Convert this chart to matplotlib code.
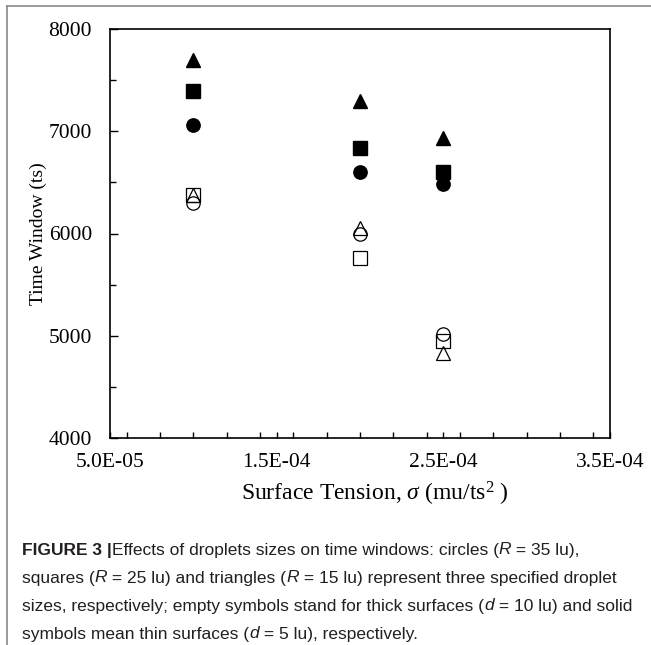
import numpy as np
import matplotlib
matplotlib.use('Agg')
import matplotlib.pyplot as plt
from matplotlib.lines import Line2D
from matplotlib.ticker import MultipleLocator, FixedLocator, FuncFormatter

plt.rcParams['font.family'] = ['Liberation Serif', 'DejaVu Serif']
plt.rcParams['mathtext.fontset'] = 'custom'
plt.rcParams['mathtext.rm'] = 'Liberation Serif'
plt.rcParams['mathtext.it'] = 'Liberation Serif:italic'

# surface tension values (mu/ts^2)
sigma = [1.0e-4, 2.0e-4, 2.5e-4]

# time windows, thin surfaces (d = 5 lu) -> solid symbols
thin_circle = [7060, 6600, 6480]    # R = 35 lu
thin_square = [7400, 6840, 6600]    # R = 25 lu
thin_triangle = [7700, 7300, 6940]  # R = 15 lu

# time windows, thick surfaces (d = 10 lu) -> empty symbols
thick_circle = [6300, 6000, 5020]
thick_square = [6380, 5760, 4950]
thick_triangle = [6380, 6050, 4830]

xticks_major = [5.0e-5, 1.5e-4, 2.5e-4, 3.5e-4]

caption = [
    [("FIGURE 3 |", 'bold'), ("Effects of droplets sizes on time windows: circles (", 'normal'),
     ("R", 'italic'), (" = 35 lu),", 'normal')],
    [("squares (", 'normal'), ("R", 'italic'), (" = 25 lu) and triangles (", 'normal'),
     ("R", 'italic'), (" = 15 lu) represent three specified droplet", 'normal')],
    [("sizes, respectively; empty symbols stand for thick surfaces (", 'normal'),
     ("d", 'italic'), (" = 10 lu) and solid", 'normal')],
    [("symbols mean thin surfaces (", 'normal'), ("d", 'italic'), (" = 5 lu), respectively.", 'normal')],
]

W, H = 651, 645
fig = plt.figure(figsize=(W / 100, H / 100), dpi=100)
ax = fig.add_axes([110 / W, 1 - 437.7 / H, 500 / W, 408.4 / H])

ax.plot(sigma, thin_triangle, '^', color='black', ms=9.6, ls='none')
ax.plot(sigma, thin_square, 's', color='black', ms=10, ls='none')
ax.plot(sigma, thin_circle, 'o', color='black', ms=9.6, ls='none')
ax.plot(sigma, thick_circle, 'o', mfc='white', mec='black', mew=0.9, ms=9.6, ls='none')
ax.plot(sigma, thick_square, 's', mfc='none', mec='black', mew=0.9, ms=10, ls='none')
ax.plot(sigma, thick_triangle, '^', mfc='none', mec='black', mew=0.9, ms=9.6, ls='none')

ax.set_xlim(5.0e-5, 3.5e-4)
ax.set_ylim(4000, 8000)
ax.xaxis.set_major_locator(FixedLocator(xticks_major))
ax.xaxis.set_minor_locator(MultipleLocator(2e-5))
ax.xaxis.set_major_formatter(FuncFormatter(lambda v, p: f"{v:.1E}"))
ax.yaxis.set_major_locator(MultipleLocator(1000))
ax.yaxis.set_minor_locator(MultipleLocator(500))

ax.tick_params(which='both', direction='in', top=False, right=False, width=1.0, color='black')
ax.tick_params(axis='x', which='both', length=4)
ax.tick_params(axis='y', which='major', length=5.5)
ax.tick_params(axis='y', which='minor', length=4.5)
ax.tick_params(axis='x', which='major', labelsize=15.5, pad=11)
ax.tick_params(axis='y', which='major', labelsize=15.5, pad=13)
for s in ax.spines.values():
    s.set_linewidth(1.2)

ax.set_xlabel(r'Surface Tension, $\mathit{\sigma}$ (mu/ts$^{2}$ )', fontsize=17)
ax.xaxis.set_label_coords((375 - 110) / 500, -(494 - 437.7) / 408.4)
ax.xaxis.label.set_va('center')
ax.set_ylabel('Time Window (ts)', fontsize=14)
ax.yaxis.set_label_coords(-(110 - 38) / 500, 0.5)
ax.yaxis.label.set_va('center')

# page frame lines (left and top)
fig.add_artist(Line2D([7 / W, 7 / W], [0, 1 - 6 / H], color='#8a8a8a', lw=1.2))
fig.add_artist(Line2D([7 / W, 1], [1 - 6 / H, 1 - 6 / H], color='#8a8a8a', lw=1.2))

# caption
renderer = fig.canvas.get_renderer()
cap_font = ['Liberation Sans Narrow', 'Liberation Sans', 'DejaVu Sans']
cap_size = 12.5


def run_width(text, style):
    kw = dict(fontsize=cap_size, family=cap_font)
    if style == 'bold':
        kw['fontweight'] = 'bold'
    if style == 'italic':
        kw['fontstyle'] = 'italic'
    t1 = fig.text(0, 0, text + '|', **kw)
    t2 = fig.text(0, 0, '|', **kw)
    w = t1.get_window_extent(renderer).width - t2.get_window_extent(renderer).width
    t1.remove()
    t2.remove()
    return w, kw


line_y = [550, 578, 606, 634]
for runs, yy in zip(caption, line_y):
    x = 22.0
    for text, style in runs:
        w, kw = run_width(text, style)
        fig.text(x / W, 1 - yy / H, text, va='center', ha='left', color='#231f20', **kw)
        x += w

fig.savefig('out.png', dpi=100)
